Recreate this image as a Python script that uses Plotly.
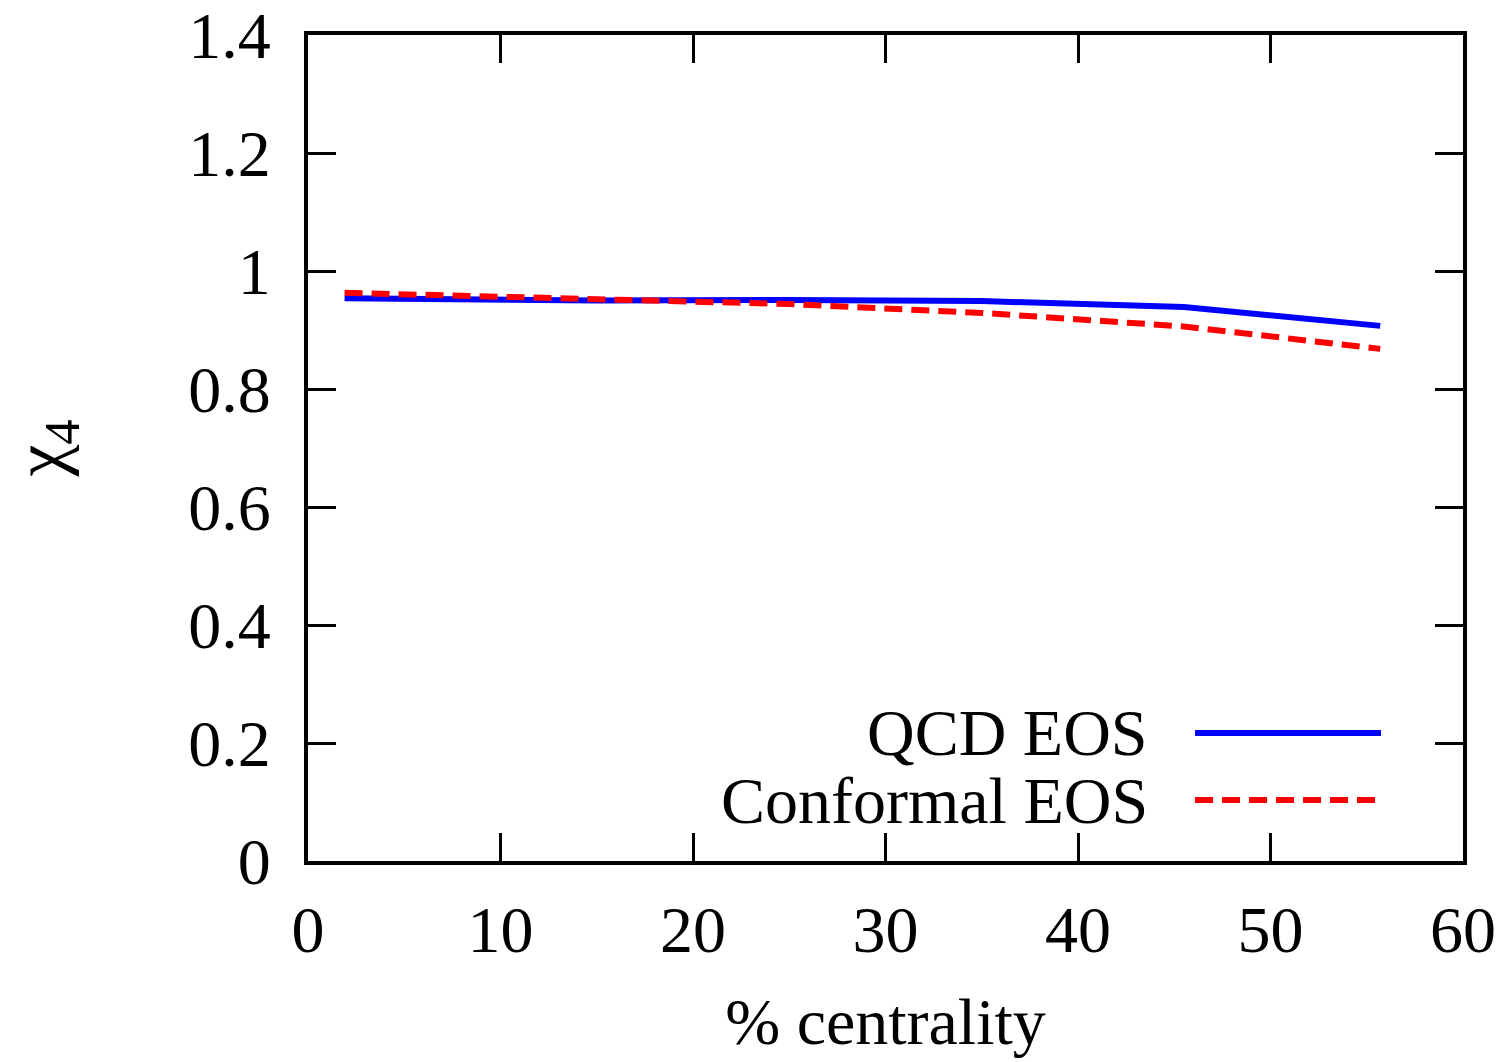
import plotly.graph_objects as go

# centrality (%) and chi_4 for the two equations of state
centrality = [1.9, 7.5, 15, 25, 35, 45.5, 55.7]
chi4_qcd = [0.954, 0.952, 0.950, 0.951, 0.949, 0.939, 0.907]
chi4_conformal = [0.963, 0.959, 0.953, 0.944, 0.929, 0.906, 0.868]

x_ticks = [0, 10, 20, 30, 40, 50, 60]
y_ticks = [0, 0.2, 0.4, 0.6, 0.8, 1.0, 1.2, 1.4]
y_tick_text = ["0", "0.2", "0.4", "0.6", "0.8", "1", "1.2", "1.4"]

series_names = ["QCD EOS", "Conformal EOS"]
FONT = "Liberation Serif, Times New Roman, serif"
FS = 66

fig = go.Figure()
fig.add_trace(go.Scatter(x=centrality, y=chi4_qcd, mode="lines", name=series_names[0],
                         line=dict(color="#0000ff", width=6), showlegend=False))
fig.add_trace(go.Scatter(x=centrality, y=chi4_conformal, mode="lines", name=series_names[1],
                         line=dict(color="#ff0000", width=6, dash="18px,9px"), showlegend=False))

axis_common = dict(showline=True, linecolor="black", linewidth=4, mirror="ticks",
                   ticks="inside", ticklen=28, tickwidth=3, tickcolor="black",
                   showgrid=False, zeroline=False, automargin=False,
                   ticklabeloverflow="allow",
                   tickfont=dict(family=FONT, size=FS, color="black"))

fig.update_xaxes(range=[0, 60], tickvals=x_ticks, ticklabelstandoff=8,
                 title=dict(text="% centrality", font=dict(family=FONT, size=FS, color="black"),
                            standoff=34), **axis_common)
fig.update_yaxes(range=[0, 1.4], tickvals=y_ticks, ticktext=y_tick_text, ticklabelstandoff=20,
                 title=dict(text="χ<sub>4</sub>", font=dict(family=FONT, size=72, color="black"),
                            standoff=132), **axis_common)

# key in the lower right: right-aligned labels followed by line samples
key_rows = [(series_names[0], 0.155, dict(color="#0000ff", width=6)),
            (series_names[1], 0.0738, dict(color="#ff0000", width=6, dash="18px,9px"))]
for label, ypos, ln in key_rows:
    fig.add_annotation(x=0.729, y=ypos, xref="paper", yref="paper", text=label,
                       showarrow=False, xanchor="right", yanchor="middle",
                       font=dict(family=FONT, size=FS, color="black"))
    fig.add_shape(type="line", xref="paper", yref="paper", x0=0.768, x1=0.929,
                  y0=ypos, y1=ypos, line=ln)

fig.update_layout(width=1508, height=1062, margin=dict(l=308, r=45, t=35, b=201),
                  plot_bgcolor="white", paper_bgcolor="white")

fig.write_html("out.html")
